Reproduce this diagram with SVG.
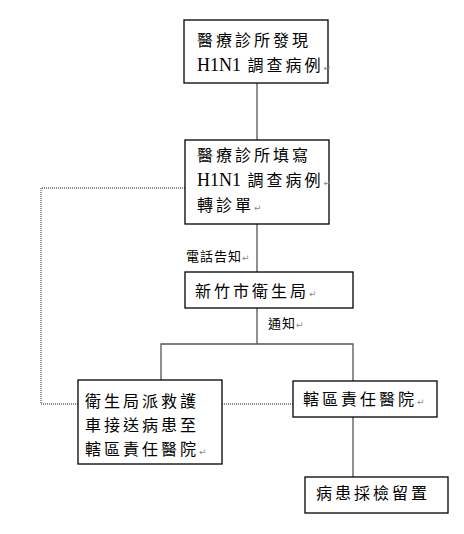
<svg xmlns="http://www.w3.org/2000/svg" width="464" height="534" viewBox="0 0 464 534">
<style>
.box{fill:#fff;stroke:#000;stroke-width:1.3}
.t{font-family:"Noto Sans CJK TC","Liberation Serif",serif;font-size:16px;letter-spacing:3px;fill:#000}
.s{font-family:"Noto Sans CJK TC","Liberation Serif",serif;font-size:13px;letter-spacing:1px;fill:#000}
.e{font-family:"Liberation Serif",serif;font-size:18px;letter-spacing:0px}
.m{font-family:"DejaVu Sans",sans-serif;font-size:9px;fill:#888;letter-spacing:0}
.ln{stroke:#555;stroke-width:1.3;fill:none}
.dot{stroke:#666;stroke-width:1.3;fill:none;stroke-dasharray:1 1}
</style>
<rect width="464" height="534" fill="#fff"/>
<g id="connectors">
<line class="ln" x1="257" y1="83" x2="257" y2="140"/>
<line class="ln" x1="257" y1="224" x2="257" y2="272"/>
<line class="ln" x1="257" y1="308" x2="257" y2="344"/>
<polyline class="ln" points="161,380 161,344 353,344 353,381"/>
<line class="ln" x1="353" y1="417" x2="353" y2="477"/>
<polyline class="dot" points="185,188 41,188 41,404 78,404"/>
<line class="dot" x1="222" y1="404" x2="293" y2="404"/>
<text class="s" x="186" y="261">電話告知<tspan class="m">↵</tspan></text>
<text class="s" x="268" y="328">通知<tspan class="m">↵</tspan></text>
</g>
<g id="n1">
<rect class="box" x="184" y="20" width="144" height="63"/>
<text class="t" x="197" y="46">醫療診所發現</text>
<text class="t" x="197" y="71"><tspan class="e">H1N1</tspan> 調查病例<tspan class="m">↵</tspan></text>
</g>
<g id="n2">
<rect class="box" x="185" y="140" width="144" height="84"/>
<text class="t" x="197" y="161">醫療診所填寫</text>
<text class="t" x="197" y="186"><tspan class="e">H1N1</tspan> 調查病例<tspan class="m">↵</tspan></text>
<text class="t" x="197" y="211">轉診單<tspan class="m">↵</tspan></text>
</g>
<g id="n3">
<rect class="box" x="185" y="272" width="168" height="36"/>
<text class="t" x="195" y="297">新竹市衛生局<tspan class="m">↵</tspan></text>
</g>
<g id="n4">
<rect class="box" x="78" y="380" width="144" height="84"/>
<text class="t" x="85" y="407">衛生局派救護</text>
<text class="t" x="85" y="431">車接送病患至</text>
<text class="t" x="85" y="455">轄區責任醫院<tspan class="m">↵</tspan></text>
</g>
<g id="n5">
<rect class="box" x="293" y="381" width="144" height="36"/>
<text class="t" x="303" y="405">轄區責任醫院<tspan class="m">↵</tspan></text>
</g>
<g id="n6">
<rect class="box" x="305" y="477" width="143" height="36"/>
<text class="t" x="316" y="499">病患採檢留置</text>
</g>
</svg>
